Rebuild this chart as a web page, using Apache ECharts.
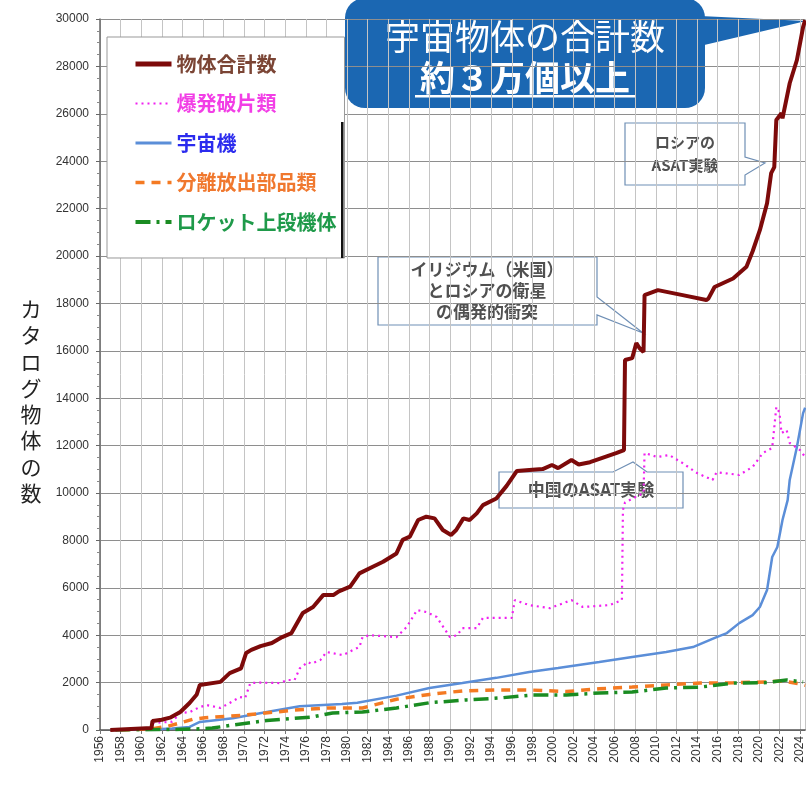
<!DOCTYPE html>
<html>
<head>
<meta charset="utf-8">
<script src="https://cdn.jsdelivr.net/npm/echarts@6/dist/echarts.min.js"></script>
<style>
html,body{margin:0;padding:0;background:#fff;}
#chart{width:806px;height:785px;}
</style>
</head>
<body>
<div id="chart"></div>
<script>
var seriesNames = ['物体合計数', '爆発破片類', '宇宙機', '分離放出部品類', 'ロケット上段機体'];
var yTitle = 'カタログ物体の数';

// [year, count]
var totalData = [[1957.0,0],[1961.0,80],[1961.1,380],[1962.0,430],[1962.8,520],[1963.8,760],[1964.7,1140],[1965.4,1500],[1965.7,1900],
	[1967.7,2030],[1968.6,2400],[1969.7,2600],[1970.2,3250],[1970.7,3380],[1971.6,3540],[1972.7,3670],[1973.7,3920],[1974.6,4090],
	[1975.7,4940],[1976.7,5190],[1977.7,5700],[1978.7,5700],[1979.2,5850],[1980.3,6050],[1981.2,6610],[1982.5,6890],[1983.5,7100],
	[1984.8,7450],[1985.4,8020],[1986.1,8160],[1986.9,8860],[1987.7,9000],[1988.5,8930],[1989.3,8440],[1990.1,8230],[1990.6,8440],
	[1991.3,8930],[1991.9,8860],[1992.6,9140],[1993.2,9490],[1994.5,9770],[1995.5,10300],[1996.5,10930],[1997.7,10970],[1999.0,11010],
	[1999.9,11180],[2000.5,11050],[2001.8,11390],[2002.5,11200],[2003.6,11300],[2004.8,11480],[2006.2,11690],[2006.9,11810],
	[2007.0,15610],[2007.7,15690],[2008.1,16330],[2008.4,16120],[2008.8,15950],[2008.9,18350],[2010.2,18560],[2012.6,18350],
	[2014.9,18140],[2015.1,18200],[2015.7,18690],[2017.5,19050],[2018.8,19550],[2019.4,20200],[2020.1,21090],[2020.8,22230],
	[2021.2,23500],[2021.5,23750],[2021.7,25740],[2022.2,26030],[2022.3,25810],[2023.0,27290],[2023.7,28270],[2024.3,29660],[2024.5,29950]];

var debrisData = [[1961.1,300],[1962.0,320],[1963.0,350],[1963.8,720],[1964.7,750],[1965.7,970],[1966.4,1050],[1967.7,930],[1968.6,1140],
	[1969.6,1390],[1970.1,1350],[1970.6,1980],[1971.5,2000],[1973.5,1980],[1974.2,2110],[1974.9,2110],[1975.4,2600],[1976.2,2870],
	[1976.5,2800],[1977.4,2950],[1978.0,3290],[1979.6,3160],[1980.6,3380],[1981.2,3500],[1981.5,3920],[1982.2,4000],[1984.8,3920],
	[1985.8,4350],[1986.8,5060],[1987.7,4980],[1988.7,4770],[1990.0,3920],[1990.7,4000],[1991.2,4300],[1992.6,4300],[1993.2,4730],
	[1996.0,4730],[1996.3,5480],[1997.7,5270],[1999.7,5140],[2001.8,5480],[2002.9,5190],[2005.5,5270],[2006.7,5480],[2006.8,9280],
	[2007.0,9600],[2008.8,10000],[2008.9,11690],[2010.1,11520],[2011.3,11600],[2012.6,11260],[2014.0,10840],[2015.5,10550],
	[2015.9,10880],[2018.1,10760],[2019.4,11100],[2020.4,11690],[2021.3,11900],[2021.7,13630],[2022.0,13400],[2022.2,12530],
	[2022.7,12660],[2023.0,12110],[2024.0,11810],[2024.5,11520]];

var spacecraftData = [[1957.5,0],[1961.0,20],[1963.0,60],[1964.7,130],[1965.7,340],[1968.9,500],[1972.2,760],[1975.4,1000],[1979.5,1100],
	[1981.0,1150],[1984.8,1450],[1988.0,1770],[1991.2,1980],[1994.5,2200],[1997.7,2450],[2000.5,2620],[2004.5,2870],[2007.7,3080],
	[2011.0,3290],[2013.6,3500],[2015.9,3920],[2016.9,4090],[2018.1,4510],[2019.4,4850],[2020.1,5190],[2020.8,5910],[2021.3,7300],
	[2021.8,7720],[2022.3,8860],[2022.8,9700],[2023.0,10550],[2023.7,11940],[2024.3,13370],[2024.5,13600]];

var partsData = [[1958.0,0],[1961.0,50],[1962.5,150],[1963.8,300],[1965.0,450],[1966.2,520],[1970.1,630],[1974.9,840],[1978.1,930],
	[1981.5,930],[1984.8,1300],[1988.0,1500],[1991.2,1650],[1994.5,1690],[1997.7,1690],[2001.3,1620],[2004.5,1740],[2007.7,1810],
	[2011.0,1900],[2014.3,1980],[2017.5,1990],[2020.8,2030],[2022.3,2070],[2024.0,1950],[2024.5,1880]];

var rocketData = [[1957.5,0],[1963.0,20],[1965.7,50],[1966.9,80],[1968.9,210],[1972.2,400],[1976.6,550],[1978.6,720],[1981.5,760],
	[1984.8,930],[1988.0,1150],[1991.6,1270],[1994.8,1350],[1998.0,1480],[2001.3,1480],[2004.5,1560],[2007.7,1600],[2011.0,1770],
	[2014.3,1810],[2017.5,1980],[2020.8,2000],[2022.7,2110],[2024.3,2030]];

var jp = '"Noto Sans CJK JP", sans-serif';
var chart = echarts.init(document.getElementById('chart'));

function callout(points, lines, cx, cy, size, lh){
	return {
		type:'group', z:100,
		children:[
			{type:'polygon', shape:{points:points}, style:{fill:'#fff', stroke:'#6f8fb5', lineWidth:1.2}},
			{type:'text', x:cx, y:cy, style:{text:lines, fill:'#505050', font:'bold '+size+'px '+jp, align:'center', verticalAlign:'middle', lineHeight:lh}}
		]
	};
}

var option = {
	animation:false,
	backgroundColor:'#fff',
	grid:{left:100, right:0, top:19, bottom:55, containLabel:false},
	legend:{
		orient:'vertical', left:107, top:37,
		padding:[17,8,26,26],
		itemGap:19.5, itemWidth:36, itemHeight:14,
		itemStyle:{opacity:0},
		backgroundColor:'#fff', borderColor:'#999', borderWidth:1,
		textStyle:{fontFamily:jp, fontSize:20, fontWeight:'bold'},
		data:[
			{name:seriesNames[0], textStyle:{color:'#7b4535'}, lineStyle:{width:5}},
			{name:seriesNames[1], textStyle:{color:'#f23ee6'}, lineStyle:{width:2}},
			{name:seriesNames[2], textStyle:{color:'#2b2bee'}, lineStyle:{width:3}},
			{name:seriesNames[3], textStyle:{color:'#f0782e'}, lineStyle:{width:3.5}},
			{name:seriesNames[4], textStyle:{color:'#1f9a4a'}, lineStyle:{width:4}}
		]
	},
	xAxis:{
		type:'value', min:1956, max:2024.5, interval:2,
		axisLine:{lineStyle:{color:'#555', width:1.5}},
		axisTick:{show:true, length:4, lineStyle:{color:'#777'}},
		axisLabel:{rotate:90, fontSize:12, color:'#333', fontFamily:'Liberation Sans', margin:6, showMaxLabel:false,
			formatter:function(v){return String(v);}},
		splitLine:{show:true, lineStyle:{color:'#c4c4c4', width:1}}
	},
	yAxis:{
		type:'value', min:0, max:30000, interval:2000,
		axisLine:{show:true, lineStyle:{color:'#666', width:1.5}},
		axisTick:{show:true, length:4, lineStyle:{color:'#666'}},
		minorTick:{show:true, splitNumber:4, length:3, lineStyle:{color:'#888'}},
		axisLabel:{fontSize:12, color:'#333', fontFamily:'Liberation Sans', margin:11,
			formatter:function(v){return String(v);}},
		splitLine:{show:true, lineStyle:{color:'#8e8e8e', width:1}}
	},
	series:[
		{name:seriesNames[2], type:'line', symbol:'none', z:3, data:spacecraftData,
			lineStyle:{color:'#5b8ed8', width:2.5}, itemStyle:{color:'#5b8ed8'}},
		{name:seriesNames[3], type:'line', symbol:'none', z:3, data:partsData,
			lineStyle:{color:'#f47a22', width:3.5, type:[9,7]}, itemStyle:{color:'#f47a22'}},
		{name:seriesNames[4], type:'line', symbol:'none', z:3, data:rocketData,
			lineStyle:{color:'#1a8c22', width:3.5, type:[15,6,3,6]}, itemStyle:{color:'#1a8c22'}},
		{name:seriesNames[1], type:'line', symbol:'none', z:4, data:debrisData,
			lineStyle:{color:'#f020f0', width:2.2, type:[2,4]}, itemStyle:{color:'#f020f0'}},
		{name:seriesNames[0], type:'line', symbol:'none', z:5, data:totalData,
			lineStyle:{color:'#7d0a0a', width:4}, itemStyle:{color:'#7d0a0a'}}
	],
	graphic:[
		{type:'text', x:31, y:401, style:{text:yTitle.split('').join('\n'), fill:'#222', font:'21px '+jp, align:'center', verticalAlign:'middle', lineHeight:26.3}},
		{type:'rect', z:90, shape:{x:341, y:122, width:2.5, height:136}, style:{fill:'#111'}},
		{type:'group', z:100, children:[
			{type:'rect', shape:{x:345, y:-2, width:360, height:110, r:20}, style:{fill:'#1b67b2'}},
			{type:'polygon', shape:{points:[[700,16],[806,21],[700,46]]}, style:{fill:'#1b67b2'}},
			{type:'text', x:525, y:37, style:{text:'宇宙物体の合計数', fill:'#fff', font:'35px '+jp, align:'center', verticalAlign:'middle'}},
			{type:'text', x:525, y:78, style:{text:'約３万個以上', fill:'#fff', font:'bold 35px '+jp, align:'center', verticalAlign:'middle'}},
			{type:'rect', shape:{x:415, y:95, width:221, height:2.5}, style:{fill:'#fff'}}
		]},
		callout([[625,123],[745,123],[745,157],[765,163],[745,175],[745,185],[625,185]], 'ロシアの\nASAT実験', 685, 154, 15, 23),
		callout([[378,257],[597,257],[597,297],[643,333],[597,315],[597,325],[378,325]], 'イリジウム（米国）\nとロシアの衛星\nの偶発的衝突', 487, 291, 17, 21),
		callout([[499,472],[613,472],[633,462],[647,472],[683,472],[683,508],[499,508]], '中国のASAT実験', 591, 490, 17, 20)
	]
};
chart.setOption(option);
</script>
</body>
</html>
